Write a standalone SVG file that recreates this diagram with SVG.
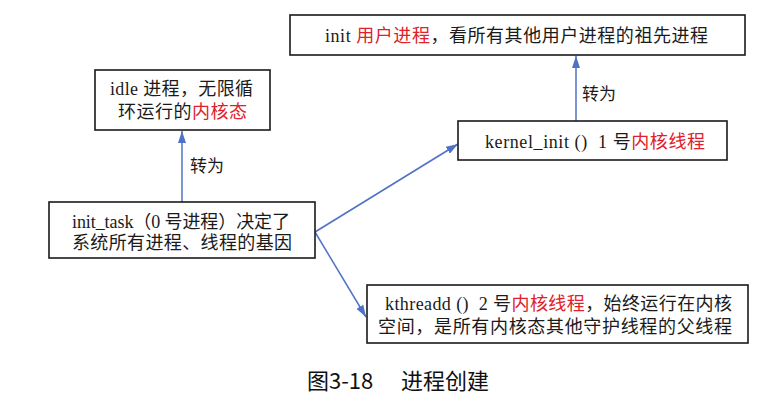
<svg xmlns="http://www.w3.org/2000/svg" width="775" height="411" viewBox="0 0 775 411">
<defs>
<style>
.box{fill:#fff;stroke:#1a1a1a;stroke-width:1.6}
.t{font-family:"Liberation Serif","Noto Sans CJK SC",serif;font-size:18px;fill:#1a1a1a}
.r{fill:#e0202a}
.lbl{font-family:"Noto Sans CJK SC",sans-serif;font-size:17px;fill:#1a1a1a}
.cap{font-family:"Noto Sans CJK SC",sans-serif;font-size:22px;fill:#111}
.edge{stroke:#4f72c4;stroke-width:1.5;fill:none}
</style>
<marker id="ah" viewBox="0 0 12 8" refX="12" refY="4" markerWidth="12" markerHeight="8" markerUnits="userSpaceOnUse" orient="auto">
<path d="M0,0 L12,4 L0,8 Z" fill="#4f72c4"/>
</marker>
</defs>
<rect width="775" height="411" fill="#fff"/>
<g id="connectors">
<line class="edge" x1="182" y1="202" x2="182" y2="131" marker-end="url(#ah)"/>
<line class="edge" x1="576" y1="121" x2="576" y2="56" marker-end="url(#ah)"/>
<line class="edge" x1="315" y1="232" x2="458" y2="144" marker-end="url(#ah)"/>
<line class="edge" x1="315" y1="232" x2="366" y2="317" marker-end="url(#ah)"/>
<text class="lbl" x="190" y="172">转为</text>
<text class="lbl" x="582" y="100">转为</text>
</g>
<g id="node-init">
<rect class="box" x="290" y="15" width="455" height="40"/>
<text class="t" x="325" y="42" textLength="383" lengthAdjust="spacing">init <tspan class="r">用户进程</tspan>，看所有其他用户进程的祖先进程</text>
</g>
<g id="node-idle">
<rect class="box" x="95" y="70" width="175" height="60"/>
<text class="t" x="110" y="95" textLength="143" lengthAdjust="spacing">idle 进程，无限循</text>
<text class="t" x="118" y="118" textLength="129" lengthAdjust="spacing">环运行的<tspan class="r">内核态</tspan></text>
</g>
<g id="node-kernel-init">
<rect class="box" x="458" y="121" width="269" height="39"/>
<text class="t" x="485" y="148" textLength="220" lengthAdjust="spacing">kernel_init ()&#160; 1 号<tspan class="r">内核线程</tspan></text>
</g>
<g id="node-init-task">
<rect class="box" x="49" y="202" width="266" height="56"/>
<text class="t" x="72" y="228" textLength="218" lengthAdjust="spacing">init_task（0 号进程）决定了</text>
<text class="t" x="72" y="249" textLength="220" lengthAdjust="spacing">系统所有进程、线程的基因</text>
</g>
<g id="node-kthreadd">
<rect class="box" x="367" y="285" width="381" height="58"/>
<text class="t" x="385" y="310" textLength="347" lengthAdjust="spacing">kthreadd ()&#160; 2 号<tspan class="r">内核线程</tspan>，始终运行在内核</text>
<text class="t" x="378" y="333" textLength="354" lengthAdjust="spacing">空间，是所有内核态其他守护线程的父线程</text>
</g>
<g id="caption">
<text class="cap" x="307" y="389">图3-18</text>
<text class="cap" x="401" y="389">进程创建</text>
</g>
</svg>
